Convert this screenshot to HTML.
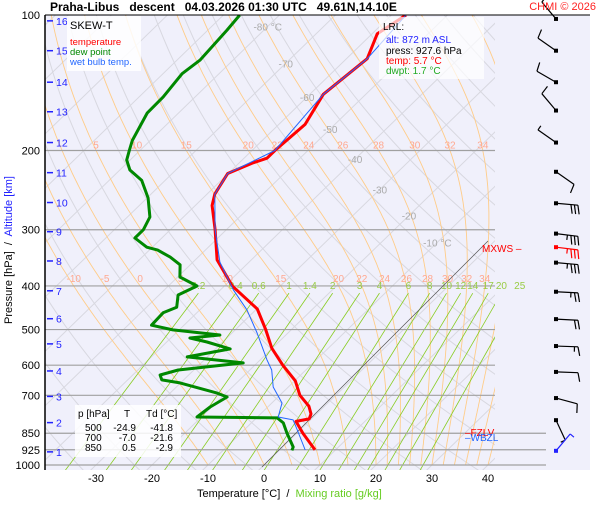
<!DOCTYPE html>
<html><head><meta charset="utf-8">
<style>
html,body{margin:0;padding:0;background:#fff;}
body{width:600px;height:500px;overflow:hidden;font-family:"Liberation Sans",sans-serif;}
svg text{font-family:"Liberation Sans",sans-serif;white-space:pre;}
</style></head>
<body>
<svg id="chart" width="600" height="500" viewBox="0 0 600 500" xmlns="http://www.w3.org/2000/svg">
<defs><clipPath id="plotclip"><rect x="45" y="15" width="450" height="455"/></clipPath></defs>
<rect x="45" y="15" width="545" height="455" fill="#f0f0fb"/>
<g id="grid" clip-path="url(#plotclip)"></g>
<g id="hlines"></g>
<g id="overlay"></g>
<g id="series" clip-path="url(#plotclip)"></g>
<g id="winds"></g>
<line x1="45" y1="15" x2="590" y2="15" stroke="#000" stroke-width="1"/>
<line x1="45" y1="15" x2="45" y2="470" stroke="#000" stroke-width="1.5"/>
<text x="50" y="11" font-size="12" font-weight="bold" xml:space="preserve">Praha-Libus   descent   04.03.2026 01:30 UTC   49.61N,14.10E</text>
<text x="596" y="10" font-size="11" fill="#f22" text-anchor="end">CHMI © 2026</text>
<g id="legend">
<rect x="67" y="16" width="74" height="55" fill="#fff" fill-opacity="0.85"/>
<text x="70" y="29" font-size="11">SKEW-T</text>
<text x="70" y="45" font-size="9.5" fill="#f00">temperature</text>
<text x="70" y="55" font-size="9.5" fill="#080">dew point</text>
<text x="70" y="65" font-size="9.5" fill="#2266ff">wet bulb temp.</text>
</g>
<g id="table-box">
<rect x="75" y="405" width="106" height="52" fill="#fff" fill-opacity="0.85"/>
<text x="78" y="417" font-size="10">p [hPa]</text><text x="124" y="417" font-size="10">T</text><text x="146" y="417" font-size="10">Td [°C]</text>
<text x="85" y="431" font-size="10">500</text><text x="136" y="431" font-size="10" text-anchor="end">-24.9</text><text x="173" y="431" font-size="10" text-anchor="end">-41.8</text>
<text x="85" y="441" font-size="10">700</text><text x="136" y="441" font-size="10" text-anchor="end">-7.0</text><text x="173" y="441" font-size="10" text-anchor="end">-21.6</text>
<text x="85" y="451" font-size="10">850</text><text x="136" y="451" font-size="10" text-anchor="end">0.5</text><text x="173" y="451" font-size="10" text-anchor="end">-2.9</text>
</g>
<text x="197" y="497" font-size="11" xml:space="preserve">Temperature [°C]  /  <tspan fill="#66cc22">Mixing ratio [g/kg]</tspan></text>
<text transform="translate(12,250) rotate(-90)" font-size="11" text-anchor="middle" xml:space="preserve">Pressure [hPa]  /  <tspan fill="#22f">Altitude [km]</tspan></text>
<g id="lrl-box">
<rect x="379" y="17" width="105" height="62" fill="#fff" fill-opacity="0.7"/>
<text x="383" y="30" font-size="10">LRL:</text>
<text x="386" y="43" font-size="10" fill="#22f">alt: 872 m ASL</text>
<text x="386" y="54" font-size="10">press: 927.6 hPa</text>
<text x="386" y="64" font-size="10" fill="#f00">temp: 5.7 °C</text>
<text x="386" y="74" font-size="10" fill="#2a2">dwpt: 1.7 °C</text>
</g>
</svg>
<script>
// ---- data ----
const tempP = [925,900,850,800,790,770,740,700,650,600,550,500,450,400,350,300,265,250,225,213,208,200,175,150,125,110,100];
const tempT = [6.3,4.6,1.1,-2.3,-0.4,-1.0,-2.8,-6.4,-9.9,-15.0,-20.1,-24.6,-29.9,-38.6,-46.1,-52.0,-57.0,-58.6,-60.1,-57.5,-55.9,-55.9,-55.3,-57.6,-56.3,-59.1,-57.4];
const dewP = [928,912,849,806,786,782,743,706,692,657,647,631,615,593,575,552,533,522,514,501,489,459,446,419,400,382,359,345,333,328,313,300,281,255,233,221,210,200,190,165,152,135,126,108,100];
const dewT = [2.3,1.9,-1.8,-4.3,-6.3,-20.8,-20.3,-19.1,-21.6,-30.1,-33.9,-35.1,-32.8,-22.5,-33.6,-27.4,-32.8,-36.6,-31.8,-41.1,-45.8,-46.0,-44.6,-46.6,-44.9,-49.6,-51.8,-55.0,-58.5,-61.0,-64.8,-64.8,-66.0,-69.8,-74.2,-78.2,-80.6,-81.9,-83.2,-85.6,-85.7,-86.6,-85.9,-86.6,-87.1];
const wetP = [926,836,794,782,728,671,615,584,509,452,408,354,300,250,225,200,150,125,100];
const wetT = [4.6,-0.5,-3.1,-6.3,-8.2,-12.7,-16.1,-18.8,-25.5,-31.6,-37.7,-45.2,-52.0,-58.6,-60.1,-55.9,-57.6,-56.3,-57.4];
const pressureTicks = [100,200,300,400,500,600,700,850,925,1000];
const tempTicks = [-30,-20,-10,0,10,20,30,40];
const altKm = [16,15,14,13,12,11,10,9,8,7,6,5,4,3,2,1];
const altP = [103,120,141,164,192,224,261,303,352,410,473,538,618,704,805,935];
const isoLabelT = [-80,-70,-60,-50,-40,-30,-20,-10];
const isoLabelP = [106,128,152,179,209,244,279,320];
const mixRatios = [0.2,0.4,0.6,1,1.4,2,3,4,6,8,10,12,14,17,20,25];
const moistThetaW = [-10,-5,0,5,10,15,20,22,24,26,28,30,32,34];
const moistLabels200 = [5,10,15,20,22,24,26,28,30,32,34];
const windP = [102,120,141,163,192,223,262,306,355,412,474,544,621,710,795];
const windDir = [320,305,300,320,305,125,95,97,95,93,93,92,92,105,155];
const windSpd = [10,10,10,10,5,10,30,35,35,25,20,15,10,10,5];
const maxWindP = [328]; const maxWindDir = [97]; const maxWindSpd = [35];
const sfcWindP = [930]; const sfcWindDir = [40]; const sfcWindSpd = [5];

// ---- axes ----
const NS='http://www.w3.org/2000/svg';
function Y(p){return 465-195.4*Math.log(1000/p);}
function X(T,p){return 264+5.6*T+1.03*(465-Y(p));}
function el(tag,attrs,parent){const e=document.createElementNS(NS,tag);for(const k in attrs)e.setAttribute(k,attrs[k]);parent.appendChild(e);return e;}
const grid=document.getElementById('grid'),hl=document.getElementById('hlines'),ov=document.getElementById('overlay'),se=document.getElementById('series'),wg=document.getElementById('winds');
function pts(fn,p0,p1,n){let s=[];for(let i=0;i<=n;i++){const p=p0*Math.pow(p1/p0,i/n);const v=fn(p);s.push(v[0].toFixed(1)+','+v[1].toFixed(1));}return s.join(' ');}

for(let T=-140;T<=50;T+=10){
  const l=el('line',{x1:X(T,1050),y1:Y(1050),x2:X(T,100),y2:Y(100),stroke:'#d8d8e0','stroke-width':1},grid);
  
  
}
for(let th=230;th<=480;th+=10){
  const pl=el('polyline',{points:pts(p=>{const T=th*Math.pow(p/1000,0.286)-273.15;return [X(T,p),Y(p)];},1050,100,40),fill:'none',stroke:'#d8d8e0','stroke-width':1},grid);
  
  
}
function es(Tc){return 6.112*Math.exp(17.67*Tc/(Tc+243.5));}
function moist(tw){
  let T=tw+273.15,p=1000;const out=[[p,T]];const dp=-5;
  while(p>100){const rs=0.622*es(T-273.15)/(p-es(T-273.15));
    const dTdp=(287*T+2.5e6*rs)/(1004+2.5e6*2.5e6*rs*0.622/(287*T*T))/p;T+=dTdp*dp;p+=dp;out.push([p,T]);}
  return out;
}
const moistCurves={};
function drawMoist(tw){
  const c=moist(tw);moistCurves[tw]=c;
  const s=c.map(a=>X(a[1]-273.15,a[0]).toFixed(1)+','+Y(a[0]).toFixed(1)).join(' ');
  const pl=el('polyline',{points:s,fill:'none',stroke:'#ffcc88','stroke-width':0.9},grid);
  
  
}
moistThetaW.forEach(drawMoist);
[36,38,40].forEach(drawMoist);
function curveAt(c,p){for(const a of c){if(a[0]<=p)return a[1]-273.15;}return c[c.length-1][1]-273.15;}
moistLabels200.forEach(tw=>{const T=curveAt(moistCurves[tw],200);
  const t=el('text',{x:X(T,200),y:Y(200)-2,'font-size':10,fill:'#ffa890','text-anchor':'middle'},ov);t.textContent=tw;
  
  });
moistThetaW.forEach(tw=>{const T=curveAt(moistCurves[tw],400);
  const x=X(T,400);if(x<50||x>495)return;
  const t=el('text',{x:x,y:Y(400)-4,'font-size':10,fill:'#ffa890','text-anchor':'middle'},ov);t.textContent=tw;
  
  });
function tdFromW(w,p){const e=w*p/(622+w);const l=Math.log(e/6.112);return 243.5*l/(17.67-l);}
mixRatios.forEach(w=>{
  const l=el('line',{x1:X(tdFromW(w,1035),1035),y1:Y(1035),x2:X(tdFromW(w,415),415),y2:Y(415),stroke:'#88cc22','stroke-width':0.8},grid);
  
  
  const t=el('text',{x:X(tdFromW(w,415),415),y:Y(415)-4,'font-size':10,fill:'#99cc44','text-anchor':'middle'},ov);t.textContent=w;
  
  
});
isoLabelT.forEach((T,i)=>{const t=el('text',{x:X(T,isoLabelP[i]),y:Y(isoLabelP[i])+4,'font-size':10,fill:'#aaa','text-anchor':'middle'},ov);
  t.textContent=T+((T===-80||T===-10)?' °C':'');
  
  });
pressureTicks.forEach(p=>{
  const x2=(p>=850)?546:495;
  if(p>100){const l=el('line',{x1:45,y1:Y(p),x2:x2,y2:Y(p),stroke:'#a0a0a0','stroke-width':1.2},hl);
    
    }
  const t=el('text',{x:40,y:Y(p)+4,'font-size':11,'text-anchor':'end'},ov);t.textContent=p;
  
  
});
tempTicks.forEach(T=>{const t=el('text',{x:X(T,1000),y:482,'font-size':11,'text-anchor':'middle'},ov);t.textContent=T;
  
  });
altKm.forEach((k,i)=>{const y=Y(altP[i]);
  const l=el('line',{x1:47,y1:y,x2:53,y2:y,stroke:'#22f','stroke-width':1.5},ov);
  
  
  const t=el('text',{x:56,y:y+4,'font-size':10.5,fill:'#22f'},ov);t.textContent=k;
  
  });
const lrlLine=el('line',{x1:262,y1:467,x2:488,y2:241,stroke:'#555','stroke-width':0.7},ov);


const mx=el('text',{x:482,y:252,'font-size':10,fill:'#f00'},ov);mx.textContent='MXWS –';


const fz=el('text',{x:465,y:436,'font-size':10,fill:'#f00'},ov);fz.textContent='–FZLV';


const wb=el('text',{x:465,y:441,'font-size':10,fill:'#2266ff'},ov);wb.textContent='–WBZL';


function series(P,T,color,w,name){
  const s=P.map((p,i)=>X(T[i],p).toFixed(1)+','+Y(p).toFixed(1)).join(' ');
  const pl=el('polyline',{points:s,fill:'none',stroke:color,'stroke-width':w,'stroke-linejoin':'round'},se);
  
  
}
series(dewP,dewT,'#008800',3,'dew-point-line');
series(tempP,tempT,'#ff0000',3,'temperature-line');
series(wetP,wetT,'#2266ff',1,'wet-bulb-line');
function barb(p,dir,spd,color){
  const y=Y(p),x=556,a=dir*Math.PI/180,ux=Math.sin(a),uy=-Math.cos(a),L=22;
  const ex=x+ux*L,ey=y+uy*L;const px=-uy,py=ux;
  const g=el('g',{},wg);
  
  
  el('rect',{x:x-2,y:y-2,width:4,height:4,fill:color},g);
  el('line',{x1:x,y1:y,x2:ex,y2:ey,stroke:color,'stroke-width':1.2},g);
  let n=Math.floor(spd/10),half=(spd%10)>=5,off=0;
  for(let i=0;i<n;i++){const bx=ex-ux*off,by=ey-uy*off;el('line',{x1:bx,y1:by,x2:bx+px*9+ux*2,y2:by+py*9+uy*2,stroke:color,'stroke-width':1.2},g);off+=3.5;}
  if(half){const bx=ex-ux*off,by=ey-uy*off;el('line',{x1:bx,y1:by,x2:bx+px*5,y2:by+py*5,stroke:color,'stroke-width':1.2},g);}
}
windP.forEach((p,i)=>barb(p,windDir[i],windSpd[i],'#000'));
maxWindP.forEach((p,i)=>barb(p,maxWindDir[i],maxWindSpd[i],'#f00'));
sfcWindP.forEach((p,i)=>barb(p,sfcWindDir[i],sfcWindSpd[i],'#22f'));
</script>
</body></html>
